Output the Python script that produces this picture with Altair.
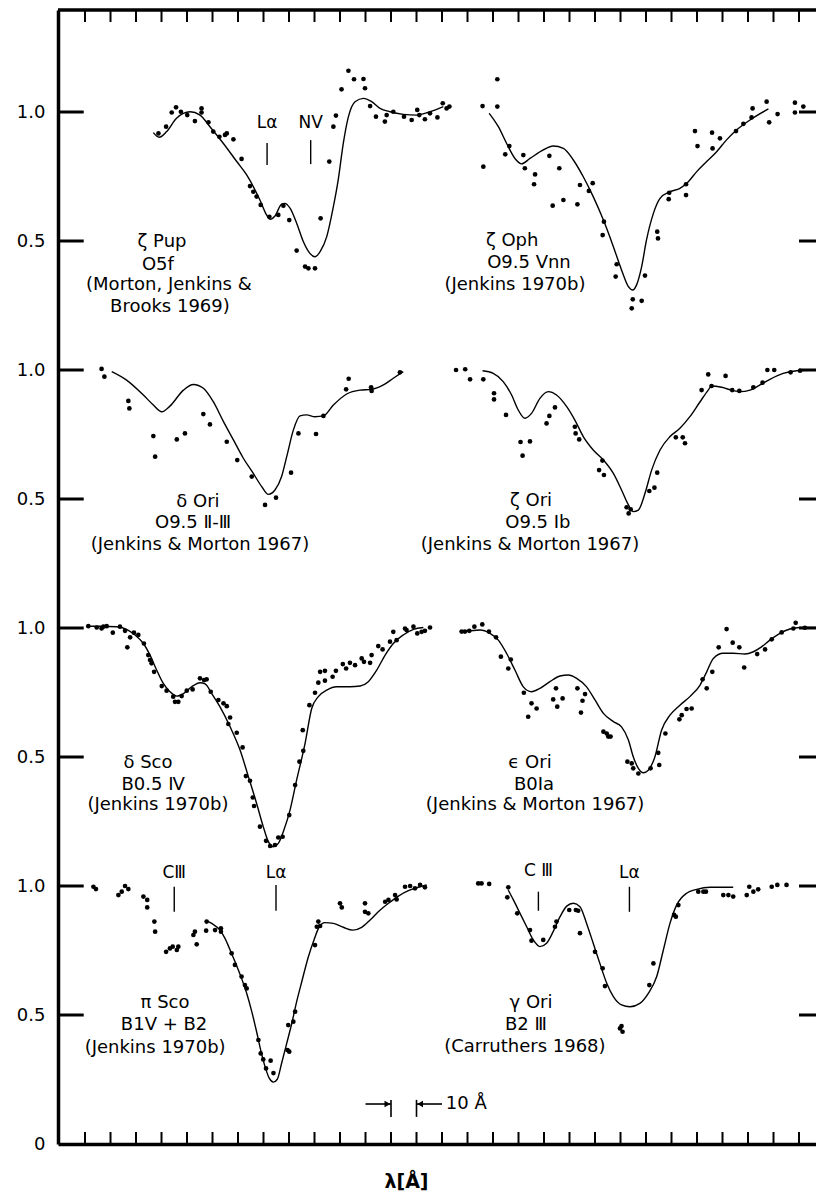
import altair as alt
import pandas as pd

# Stacked far-UV spectra: x in Å (ticks every 10 Å), y = relative flux + row offset
PX_PER_A = 2.55
PX_PER_UNIT = 258.0
PLOT_W, PLOT_H = 758, 1134
X_MIN = -10.59
X_MAX = X_MIN + PLOT_W / PX_PER_A
Y_MAX = PLOT_H / PX_PER_UNIT
FONT = "DejaVu Sans"

X_TICKS = list(range(0, 290, 10))
Y_TICKS = [0.5, 1.0, 1.5, 2.0, 2.5, 3.0, 3.5, 4.0]
Y_LABEL_VALUES = [0.0] + Y_TICKS

# ---- measured points (x [Å], relative flux) and fitted profiles ----
ZETA_PUP_DOTS = [
    (28.8, 0.917), (31.8, 0.943), (34.0, 0.998), (35.7, 1.018), (37.6, 1.001), (40.1, 0.988),
    (43.1, 0.965), (45.7, 1.014), (45.7, 0.998), (48.4, 0.960), (50.3, 0.924), (52.7, 0.904),
    (54.9, 0.911), (55.6, 0.917), (58.2, 0.894), (61.4, 0.818), (64.7, 0.713), (66.0, 0.691),
    (67.3, 0.672), (68.9, 0.640), (72.3, 0.594), (75.8, 0.601), (77.8, 0.637), (80.1, 0.581),
    (83.0, 0.463), (86.3, 0.401), (87.6, 0.394), (90.2, 0.394), (92.4, 0.588), (95.8, 0.808),
    (97.4, 0.943), (98.4, 0.986), (100.6, 1.088), (103.3, 1.160), (105.5, 1.127), (109.2, 1.128),
    (109.8, 1.092), (111.8, 1.023), (114.1, 0.982), (117.6, 0.963), (118.3, 0.988), (120.9, 1.001),
    (125.1, 0.982), (128.1, 0.969), (130.3, 1.008), (131.1, 0.988), (133.3, 0.972), (135.3, 0.995),
    (138.2, 0.979), (140.3, 1.034), (141.8, 1.014), (142.9, 1.021),
]
ZETA_PUP_FIT = [
    (26.8, 0.920), (29.1, 0.902), (32.0, 0.924), (35.9, 0.976), (41.2, 1.001), (45.1, 0.988),
    (49.0, 0.943), (54.2, 0.879), (59.5, 0.808), (63.4, 0.756), (66.0, 0.711), (68.6, 0.659),
    (71.2, 0.601), (72.6, 0.584), (74.5, 0.597), (77.1, 0.643), (78.4, 0.646), (80.4, 0.627),
    (83.0, 0.569), (85.6, 0.498), (88.2, 0.452), (90.2, 0.439), (92.2, 0.459), (94.8, 0.517),
    (97.4, 0.633), (99.3, 0.737), (101.3, 0.879), (103.3, 0.982), (105.9, 1.040), (109.2, 1.053),
    (112.4, 1.040), (115.7, 1.014), (119.6, 1.001), (124.8, 0.991), (130.1, 0.988), (135.3, 1.001),
    (140.5, 1.021),
]

ZETA_OPH_DOTS = [
    (155.9, 1.023), (161.7, 1.127), (161.7, 1.021), (156.2, 0.788), (166.4, 0.868), (164.8, 0.836),
    (171.9, 0.833), (172.5, 0.782), (176.5, 0.758), (176.1, 0.720), (182.1, 0.830), (186.0, 0.782),
    (183.4, 0.637), (187.6, 0.659), (193.1, 0.642), (194.1, 0.717), (197.6, 0.694), (199.1, 0.724),
    (203.5, 0.575), (203.0, 0.523), (208.5, 0.410), (208.1, 0.362), (214.8, 0.274), (218.3, 0.268),
    (214.4, 0.239), (219.6, 0.366), (224.4, 0.536), (224.7, 0.510), (229.1, 0.687), (228.9, 0.662),
    (235.7, 0.720), (235.7, 0.678), (239.2, 0.926), (240.2, 0.868), (245.9, 0.920), (246.1, 0.859),
    (249.0, 0.898), (255.3, 0.926), (258.2, 0.954), (261.4, 0.979), (261.8, 1.014), (267.3, 1.040),
    (268.3, 0.960), (271.6, 0.992), (278.4, 1.036), (281.7, 1.021), (278.4, 0.998),
]
ZETA_OPH_FIT = [
    (158.5, 0.995), (162.1, 0.943), (165.3, 0.879), (168.6, 0.820), (171.2, 0.799), (174.5, 0.820),
    (179.7, 0.853), (183.6, 0.868), (187.6, 0.859), (191.5, 0.814), (195.4, 0.749), (199.3, 0.672),
    (203.3, 0.581), (207.2, 0.478), (210.4, 0.388), (213.1, 0.323), (214.8, 0.310), (216.3, 0.330),
    (218.3, 0.401), (220.2, 0.504), (222.9, 0.607), (225.5, 0.665), (229.4, 0.691), (233.3, 0.704),
    (236.6, 0.730), (239.9, 0.769), (243.8, 0.808), (247.7, 0.846), (251.6, 0.892), (255.5, 0.930),
    (260.8, 0.969), (268.0, 1.012),
]

DELTA_ORI_DOTS = [
    (6.5, 1.004), (7.6, 0.974), (17.0, 0.880), (17.4, 0.851), (26.8, 0.744), (27.5, 0.664),
    (36.0, 0.731), (39.2, 0.754), (46.4, 0.829), (49.0, 0.789), (55.6, 0.722), (59.7, 0.651),
    (65.4, 0.587), (70.6, 0.477), (74.9, 0.505), (80.8, 0.602), (83.7, 0.754), (90.6, 0.752),
    (93.5, 0.822), (102.4, 0.925), (103.4, 0.966), (112.2, 0.933), (112.4, 0.919), (123.5, 0.991),
]
DELTA_ORI_FIT = [
    (10.5, 0.994), (16.3, 0.961), (22.9, 0.903), (26.8, 0.864), (30.1, 0.838), (33.3, 0.860),
    (38.6, 0.922), (42.5, 0.944), (46.4, 0.929), (50.3, 0.877), (54.3, 0.800), (58.2, 0.729),
    (62.1, 0.658), (66.0, 0.599), (69.3, 0.548), (71.9, 0.518), (74.5, 0.535), (77.1, 0.587),
    (79.1, 0.664), (81.7, 0.767), (84.3, 0.822), (86.9, 0.826), (90.2, 0.819), (93.5, 0.822),
    (97.4, 0.864), (102.6, 0.907), (107.8, 0.922), (112.4, 0.925), (117.0, 0.942), (120.9, 0.968),
    (124.8, 0.994),
]

ZETA_ORI_DOTS = [
    (145.5, 1.000), (149.1, 1.003), (151.0, 0.964), (156.2, 0.964), (160.4, 0.910), (160.4, 0.886),
    (165.1, 0.826), (170.8, 0.721), (174.5, 0.723), (171.6, 0.668), (181.0, 0.793), (182.1, 0.822),
    (184.3, 0.855), (192.1, 0.780), (192.4, 0.754), (193.8, 0.731), (202.9, 0.649), (201.6, 0.612),
    (203.5, 0.593), (212.4, 0.468), (213.2, 0.444), (214.0, 0.460), (221.3, 0.531), (223.3, 0.544),
    (224.4, 0.602), (231.7, 0.739), (234.4, 0.739), (235.3, 0.716), (241.8, 0.922), (244.4, 0.983),
    (245.7, 0.938), (251.2, 0.977), (253.8, 0.922), (256.6, 0.919), (262.1, 0.933), (265.7, 0.951),
    (267.6, 1.000), (270.3, 1.000), (276.7, 0.991), (280.4, 0.997),
]
ZETA_ORI_FIT = [
    (155.9, 0.997), (160.1, 0.987), (164.0, 0.955), (167.3, 0.903), (169.9, 0.845), (172.5, 0.813),
    (175.1, 0.832), (178.4, 0.890), (181.7, 0.916), (184.9, 0.903), (188.9, 0.858), (192.1, 0.806),
    (195.4, 0.742), (199.3, 0.690), (203.3, 0.651), (207.2, 0.599), (210.4, 0.535), (213.1, 0.477),
    (215.0, 0.451), (217.0, 0.457), (219.6, 0.522), (222.2, 0.612), (225.5, 0.690), (229.4, 0.742),
    (233.3, 0.774), (237.2, 0.819), (241.2, 0.877), (244.4, 0.922), (245.7, 0.938), (249.7, 0.933),
    (254.2, 0.920), (256.8, 0.916), (260.8, 0.922), (264.7, 0.942), (268.6, 0.964), (273.8, 0.987),
    (279.1, 0.997), (286.5, 1.000),
]

DELTA_SCO_DOTS = [
    (1.3, 1.007), (4.6, 1.002), (6.5, 0.998), (7.2, 1.005), (8.5, 1.007), (10.9, 0.982),
    (13.7, 1.005), (15.7, 0.989), (16.6, 0.925), (17.7, 0.964), (19.2, 0.982), (20.9, 0.973),
    (23.1, 0.940), (24.8, 0.895), (25.5, 0.876), (26.1, 0.863), (27.1, 0.830), (30.1, 0.775),
    (32.0, 0.757), (34.6, 0.734), (35.3, 0.714), (36.6, 0.714), (37.9, 0.736), (39.9, 0.757),
    (42.2, 0.762), (45.1, 0.805), (46.7, 0.798), (47.7, 0.801), (49.3, 0.753), (52.3, 0.721),
    (54.3, 0.708), (55.6, 0.697), (56.9, 0.653), (56.2, 0.628), (59.5, 0.594), (61.8, 0.537),
    (63.1, 0.426), (64.7, 0.408), (65.8, 0.343), (66.3, 0.310), (68.6, 0.230), (71.0, 0.175),
    (72.6, 0.155), (74.5, 0.159), (75.8, 0.188), (77.5, 0.191), (80.1, 0.275), (82.4, 0.391),
    (84.1, 0.482), (85.6, 0.524), (85.4, 0.604), (88.0, 0.701), (90.2, 0.749), (91.5, 0.788),
    (92.2, 0.830), (94.1, 0.834), (94.1, 0.796), (97.1, 0.811), (98.4, 0.834), (101.1, 0.860),
    (102.4, 0.843), (103.9, 0.865), (105.9, 0.856), (108.5, 0.882), (109.4, 0.869), (111.8, 0.865),
    (112.4, 0.895), (115.0, 0.930), (116.7, 0.917), (119.6, 0.947), (120.9, 0.985), (122.2, 0.953),
    (125.5, 0.998), (126.1, 0.992), (128.8, 1.005), (130.3, 0.979), (132.0, 0.985), (133.3, 0.989),
    (135.3, 1.002),
]
DELTA_SCO_FIT = [
    (0.7, 1.007), (5.9, 1.007), (12.4, 1.005), (16.3, 0.995), (19.6, 0.973), (22.9, 0.940),
    (25.5, 0.895), (28.1, 0.837), (30.7, 0.785), (33.3, 0.753), (36.0, 0.736), (38.6, 0.746),
    (41.8, 0.772), (45.1, 0.788), (47.1, 0.783), (49.7, 0.746), (52.9, 0.695), (56.9, 0.617),
    (60.8, 0.527), (64.1, 0.423), (67.3, 0.320), (69.9, 0.230), (71.9, 0.172), (73.9, 0.152),
    (75.8, 0.165), (78.0, 0.217), (80.4, 0.294), (83.0, 0.411), (86.3, 0.553), (88.9, 0.688),
    (91.5, 0.734), (94.8, 0.759), (98.7, 0.772), (103.9, 0.772), (107.9, 0.775), (111.1, 0.792),
    (114.4, 0.837), (117.7, 0.895), (120.9, 0.940), (124.8, 0.973), (128.8, 0.995), (132.7, 1.002),
]

EPS_ORI_DOTS = [
    (147.7, 0.986), (149.0, 0.986), (150.7, 0.989), (152.7, 1.005), (155.8, 1.014), (158.4, 0.986),
    (161.2, 0.964), (163.1, 0.889), (167.0, 0.878), (166.0, 0.843), (172.1, 0.749), (175.1, 0.708),
    (177.1, 0.688), (173.8, 0.656), (183.6, 0.723), (184.7, 0.766), (185.2, 0.695), (187.3, 0.727),
    (193.1, 0.766), (196.1, 0.744), (195.1, 0.718), (194.5, 0.672), (203.3, 0.598), (204.6, 0.591),
    (205.2, 0.579), (206.1, 0.579), (212.7, 0.482), (214.4, 0.475), (215.0, 0.456), (217.0, 0.436),
    (221.8, 0.456), (224.8, 0.516), (225.2, 0.469), (227.6, 0.591), (233.1, 0.646), (234.0, 0.662),
    (235.9, 0.686), (237.9, 0.688), (242.2, 0.801), (243.8, 0.766), (246.0, 0.830), (248.5, 0.925),
    (251.6, 0.996), (254.0, 0.943), (256.6, 0.925), (258.5, 0.847), (263.6, 0.899), (266.7, 0.917),
    (269.3, 0.956), (273.2, 0.983), (277.8, 0.998), (278.7, 1.020), (282.3, 1.001),
]
EPS_ORI_FIT = [
    (147.0, 0.986), (151.0, 0.989), (154.9, 0.992), (158.8, 0.979), (162.1, 0.953), (165.3, 0.902),
    (168.6, 0.837), (171.9, 0.772), (175.1, 0.753), (178.4, 0.766), (182.3, 0.792), (186.3, 0.814),
    (189.5, 0.818), (192.8, 0.805), (196.7, 0.772), (200.0, 0.721), (203.3, 0.669), (207.2, 0.637),
    (210.4, 0.617), (213.1, 0.566), (215.0, 0.501), (217.0, 0.456), (218.9, 0.439), (220.9, 0.449),
    (223.5, 0.501), (226.1, 0.604), (229.4, 0.662), (233.3, 0.701), (237.2, 0.734), (241.2, 0.779),
    (243.8, 0.830), (246.4, 0.882), (250.3, 0.902), (254.2, 0.902), (258.8, 0.899), (262.1, 0.908),
    (265.3, 0.927), (268.6, 0.953), (272.5, 0.979), (276.4, 0.996), (280.4, 1.002), (286.5, 1.002),
]

PI_SCO_DOTS = [
    (3.3, 0.997), (4.3, 0.988), (13.1, 0.965), (14.4, 0.978), (15.7, 1.000), (17.0, 0.988),
    (22.9, 0.959), (24.4, 0.946), (24.4, 0.917), (27.2, 0.862), (27.5, 0.823), (31.8, 0.745),
    (33.3, 0.758), (34.4, 0.765), (36.0, 0.752), (36.6, 0.765), (42.5, 0.810), (43.1, 0.823),
    (43.8, 0.774), (47.5, 0.827), (47.7, 0.862), (51.0, 0.829), (53.3, 0.823), (53.3, 0.836),
    (57.5, 0.739), (58.8, 0.694), (61.4, 0.649), (62.7, 0.616), (63.4, 0.603), (68.0, 0.403),
    (68.9, 0.351), (69.9, 0.328), (72.8, 0.323), (71.0, 0.293), (73.9, 0.275), (79.4, 0.364),
    (80.1, 0.358), (79.7, 0.461), (81.7, 0.474), (82.4, 0.513), (90.2, 0.771), (90.9, 0.842),
    (91.5, 0.862), (92.2, 0.845), (100.0, 0.933), (100.7, 0.917), (109.8, 0.933), (109.8, 0.900),
    (111.1, 0.894), (117.7, 0.939), (119.0, 0.946), (121.6, 0.965), (122.2, 0.948), (125.5, 0.997),
    (127.5, 1.000), (129.4, 0.991), (131.4, 1.004), (133.3, 0.995),
]
PI_SCO_FIT = [
    (47.5, 0.866), (49.7, 0.855), (52.9, 0.829), (54.9, 0.797), (56.9, 0.752), (58.8, 0.707),
    (61.4, 0.642), (63.4, 0.584), (65.4, 0.513), (67.3, 0.435), (68.9, 0.364), (70.6, 0.300),
    (72.3, 0.254), (73.9, 0.240), (75.4, 0.251), (77.1, 0.313), (79.1, 0.390), (81.1, 0.468),
    (83.0, 0.552), (85.0, 0.629), (87.6, 0.726), (89.8, 0.791), (91.9, 0.842), (94.1, 0.858),
    (97.4, 0.855), (101.3, 0.840), (105.0, 0.829), (108.5, 0.840), (111.8, 0.868), (115.0, 0.900),
    (119.0, 0.933), (122.9, 0.961), (126.8, 0.982), (130.7, 0.995), (134.0, 1.004),
]

GAMMA_ORI_DOTS = [
    (154.2, 1.010), (155.5, 1.010), (158.5, 1.008), (166.0, 0.995), (165.6, 0.956), (169.5, 0.894),
    (174.5, 0.829), (175.1, 0.788), (179.7, 0.791), (184.3, 0.842), (184.9, 0.862), (189.9, 0.907),
    (192.5, 0.907), (193.4, 0.904), (194.1, 0.817), (200.0, 0.745), (203.0, 0.681), (203.9, 0.612),
    (209.8, 0.448), (210.8, 0.435), (210.4, 0.457), (221.3, 0.616), (222.9, 0.700), (231.0, 0.888),
    (231.7, 0.881), (232.7, 0.926), (240.5, 0.978), (242.5, 0.978), (243.5, 0.978), (250.3, 0.965),
    (252.3, 0.965), (254.2, 0.959), (259.5, 0.965), (260.5, 0.997), (262.1, 0.978), (264.0, 0.987),
    (269.3, 0.997), (271.5, 1.004), (275.1, 1.004),
]
GAMMA_ORI_FIT = [
    (166.0, 0.984), (168.0, 0.946), (170.6, 0.894), (173.2, 0.842), (175.8, 0.791), (178.4, 0.765),
    (181.0, 0.778), (183.6, 0.823), (186.3, 0.881), (188.9, 0.922), (191.5, 0.933), (194.1, 0.920),
    (196.7, 0.855), (199.3, 0.778), (201.9, 0.700), (204.6, 0.623), (207.2, 0.571), (210.4, 0.539),
    (213.7, 0.532), (217.6, 0.545), (220.9, 0.584), (224.2, 0.649), (226.8, 0.752), (229.4, 0.855),
    (232.0, 0.926), (235.9, 0.972), (239.9, 0.987), (245.1, 0.995), (250.3, 0.995), (254.2, 0.995),
]

# (star, vertical offset of its row, points, fitted profile)
PANELS = [
    ("zeta Pup", 3, ZETA_PUP_DOTS, ZETA_PUP_FIT),
    ("zeta Oph", 3, ZETA_OPH_DOTS, ZETA_OPH_FIT),
    ("delta Ori", 2, DELTA_ORI_DOTS, DELTA_ORI_FIT),
    ("zeta Ori", 2, ZETA_ORI_DOTS, ZETA_ORI_FIT),
    ("delta Sco", 1, DELTA_SCO_DOTS, DELTA_SCO_FIT),
    ("eps Ori", 1, EPS_ORI_DOTS, EPS_ORI_FIT),
    ("pi Sco", 0, PI_SCO_DOTS, PI_SCO_FIT),
    ("gamma Ori", 0, GAMMA_ORI_DOTS, GAMMA_ORI_FIT),
]

# Star captions: text, x [Å], stacked y
STAR_LABELS = [
    ("ζ Pup", 30.2, 3.496), ("O5f", 28.6, 3.407), ("(Morton, Jenkins &", 32.9, 3.329),
    ("Brooks 1969)", 33.3, 3.244),
    ("ζ Oph", 167.5, 3.500), ("O9.5 Ⅴnn", 174.1, 3.415), ("(Jenkins 1970b)", 168.6, 3.330),
    ("δ Ori", 44.3, 2.488), ("O9.5 Ⅱ-Ⅲ", 42.4, 2.407), ("(Jenkins & Morton 1967)", 45.1, 2.322),
    ("ζ Ori", 174.9, 2.492), ("O9.5 Ib", 177.6, 2.407), ("(Jenkins & Morton 1967)", 174.5, 2.322),
    ("δ Sco", 24.7, 1.477), ("B0.5 Ⅳ", 26.7, 1.391), ("(Jenkins 1970b)", 28.6, 1.314),
    ("ϵ Ori", 174.5, 1.477), ("B0Ia", 176.1, 1.391), ("(Jenkins & Morton 1967)", 176.5, 1.314),
    ("π Sco", 31.4, 0.547), ("B1Ⅴ + B2", 31.0, 0.461), ("(Jenkins 1970b)", 27.5, 0.372),
    ("γ Ori", 174.9, 0.547), ("B2 Ⅲ", 172.9, 0.461), ("(Carruthers 1968)", 172.5, 0.376),
]

# Line identifications: label, x [Å], label y, marker top, marker bottom
LINE_IDS = [
    ("Lα", 71.4, 3.957, 3.880, 3.795),
    ("NⅤ", 88.5, 3.957, 3.891, 3.798),
    ("CⅢ", 35.0, 1.049, 0.997, 0.900),
    ("Lα", 74.9, 1.049, 1.004, 0.904),
    ("C Ⅲ", 177.8, 1.058, 0.978, 0.904),
    ("Lα", 213.5, 1.052, 0.997, 0.900),
]

# 10 Å scale bar between two bottom ticks
SCALE_BAR_X = [120, 130]
SCALE_BAR_Y = (0.105, 0.171)
SCALE_ARROW_Y = 0.155

# ---- tables ----
dot_rows, fit_rows = [], []
for name, off, dots, fit in PANELS:
    for x, f in dots:
        dot_rows.append({"x": x, "y": f + off, "panel": name})
    for i, (x, f) in enumerate(fit):
        fit_rows.append({"x": x, "y": f + off, "panel": name, "i": i})
dots_df = pd.DataFrame(dot_rows)
fit_df = pd.DataFrame(fit_rows)

xs = alt.Scale(domain=[X_MIN, X_MAX], nice=False, zero=False)
ys = alt.Scale(domain=[0, Y_MAX], nice=False, zero=False)

x_axis = alt.Axis(
    labels=False, ticks=False, grid=False, domain=True, domainWidth=3.5,
    domainColor="black", title="λ[Å]", titleFont=FONT, titleFontSize=19,
    titleFontWeight="bold", titleColor="black", titleX=348, titleY=43,
    titleAlign="center", titleBaseline="alphabetic",
)
y_axis = alt.Axis(
    values=Y_LABEL_VALUES,
    labelExpr="datum.value == 0 ? '0' : (datum.value % 1 == 0 ? '1.0' : '0.5')",
    ticks=False, grid=False, domain=True, domainWidth=3.5, domainColor="black",
    labelFont=FONT, labelFontSize=18, labelColor="black", labelPadding=13,
    labelFlush=False, title="",
)

X = alt.X("x:Q", scale=xs, axis=x_axis)
Y = alt.Y("y:Q", scale=ys, axis=y_axis)
X2 = alt.X2("x2:Q")
Y2 = alt.Y2("y2:Q")

TICK_LEN = 12 / PX_PER_UNIT

top_frame = alt.Chart(pd.DataFrame({"y": [Y_MAX]})).mark_rule(
    color="black", strokeWidth=3.5).encode(y=Y)

top_ticks = alt.Chart(pd.DataFrame({"x": X_TICKS, "y": Y_MAX, "y2": Y_MAX - TICK_LEN})).mark_rule(
    color="black", strokeWidth=2).encode(x=X, y=Y, y2=Y2)
bottom_ticks = alt.Chart(pd.DataFrame({"x": X_TICKS, "y": 0.0, "y2": TICK_LEN})).mark_rule(
    color="black", strokeWidth=2).encode(x=X, y=Y, y2=Y2)

left_ticks = alt.Chart(pd.DataFrame({"y": Y_TICKS, "x": X_MIN, "x2": -0.5})).mark_rule(
    color="black", strokeWidth=3).encode(x=X, x2=X2, y=Y)
right_ticks = alt.Chart(pd.DataFrame({"y": Y_TICKS, "x": 280.0, "x2": X_MAX})).mark_rule(
    color="black", strokeWidth=3).encode(x=X, x2=X2, y=Y)

fits = alt.Chart(fit_df).mark_line(
    color="black", strokeWidth=1.4, interpolate="monotone").encode(
    x=X, y=Y, detail="panel:N", order="i:Q")

points = alt.Chart(dots_df).mark_circle(color="black", size=22, opacity=1).encode(x=X, y=Y)

ids_df = pd.DataFrame(LINE_IDS, columns=["label", "x", "ty", "y", "y2"])
id_marks = alt.Chart(ids_df).mark_rule(color="black", strokeWidth=1.4).encode(x=X, y=Y, y2=Y2)
id_text = alt.Chart(ids_df).mark_text(
    font=FONT, fontSize=17, color="black", baseline="middle", align="center").encode(
    x=X, y=alt.Y("ty:Q", scale=ys, axis=y_axis), text="label:N")

star_df = pd.DataFrame(STAR_LABELS, columns=["label", "x", "y"])
star_text = alt.Chart(star_df).mark_text(
    font=FONT, fontSize=18, color="black", baseline="middle", align="center").encode(
    x=X, y=Y, text="label:N")

bar_df = pd.DataFrame({"x": SCALE_BAR_X, "y": SCALE_BAR_Y[0], "y2": SCALE_BAR_Y[1]})
bar_marks = alt.Chart(bar_df).mark_rule(color="black", strokeWidth=1.6).encode(x=X, y=Y, y2=Y2)
arrow_df = pd.DataFrame({"x": [SCALE_BAR_X[0] - 10, SCALE_BAR_X[1]],
                         "x2": [SCALE_BAR_X[0], SCALE_BAR_X[1] + 10],
                         "y": SCALE_ARROW_Y})
arrow_lines = alt.Chart(arrow_df).mark_rule(color="black", strokeWidth=1.6).encode(x=X, x2=X2, y=Y)
head_df = pd.DataFrame({"x": [SCALE_BAR_X[0] - 1.4, SCALE_BAR_X[1] + 1.4],
                        "y": SCALE_ARROW_Y, "dir": ["triangle-right", "triangle-left"]})
arrow_heads = alt.Chart(head_df).mark_point(
    filled=True, color="black", size=45, opacity=1).encode(
    x=X, y=Y, shape=alt.Shape("dir:N", scale=None))
bar_text = alt.Chart(pd.DataFrame({"x": [SCALE_BAR_X[1] + 11.5], "y": [SCALE_ARROW_Y],
                                   "label": ["10 Å"]})).mark_text(
    font=FONT, fontSize=18, color="black", baseline="middle", align="left").encode(
    x=X, y=Y, text="label:N")

chart = alt.layer(
    top_frame, top_ticks, bottom_ticks, left_ticks, right_ticks,
    fits, points, id_marks, id_text, star_text,
    bar_marks, arrow_lines, arrow_heads, bar_text,
).properties(
    width=PLOT_W, height=PLOT_H,
    autosize=alt.AutoSizeParams(type="none"),
    padding={"left": 58, "top": 10, "right": 0, "bottom": 47},
    background="white",
).configure_view(strokeWidth=0)

chart.save("out.html", embed_options={"renderer": "svg", "actions": False})
